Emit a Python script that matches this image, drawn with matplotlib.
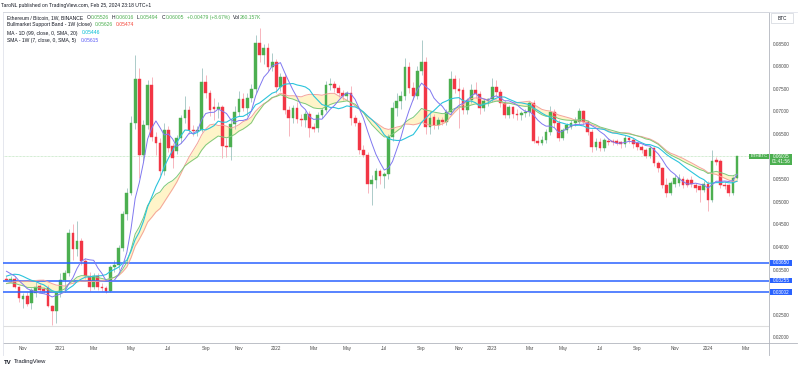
import numpy as np
import pandas as pd
import matplotlib
matplotlib.use('Agg')
import matplotlib.pyplot as plt
import matplotlib.dates as mdates
from matplotlib.patches import Rectangle
from matplotlib.lines import Line2D

# ETH/BTC weekly candles, first bar = week of 2020-10-05
first_week = '2020-10-05'

# closes before the visible range, only used to warm up the moving averages
warmup_close = [0.0255, 0.0240, 0.0232, 0.0240, 0.0262, 0.0275, 0.0280, 0.0278,
                0.0280, 0.0282, 0.0285, 0.0290, 0.0292, 0.0300, 0.0345, 0.0337,
                0.0363, 0.0345, 0.0368, 0.0347, 0.0358, 0.0350, 0.0340, 0.0333]

opens = [0.0330, 0.0327, 0.0329, 0.0311, 0.0285, 0.0291, 0.0276, 0.0298, 0.0314, 0.0307,
         0.0308, 0.0269, 0.0259, 0.0298, 0.0327, 0.0343, 0.0430, 0.0396, 0.0414, 0.0369,
         0.0336, 0.0312, 0.0336, 0.0312, 0.0309, 0.0303, 0.0355, 0.0359, 0.0397, 0.0473,
         0.0520, 0.0674, 0.0771, 0.0604, 0.0670, 0.0759, 0.0644, 0.0630, 0.0569, 0.0659,
         0.0624, 0.0612, 0.0641, 0.0686, 0.0703, 0.0659, 0.0656, 0.0659, 0.0764, 0.0740,
         0.0709, 0.0705, 0.0709, 0.0624, 0.0622, 0.0672, 0.0698, 0.0728, 0.0707, 0.0730,
         0.0750, 0.0851, 0.0825, 0.0840, 0.0799, 0.0809, 0.0754, 0.0777, 0.0702, 0.0685,
         0.0707, 0.0683, 0.0681, 0.0694, 0.0666, 0.0664, 0.0692, 0.0703, 0.0759, 0.0760,
         0.0751, 0.0740, 0.0734, 0.0740, 0.0685, 0.0675, 0.0615, 0.0604, 0.0540, 0.0549,
         0.0567, 0.0556, 0.0561, 0.0644, 0.0707, 0.0722, 0.0734, 0.0798, 0.0751, 0.0733,
         0.0790, 0.0810, 0.0666, 0.0687, 0.0670, 0.0681, 0.0677, 0.0699, 0.0771, 0.0749,
         0.0748, 0.0703, 0.0725, 0.0748, 0.0739, 0.0707, 0.0722, 0.0727, 0.0753, 0.0744,
         0.0718, 0.0692, 0.0709, 0.0694, 0.0691, 0.0696, 0.0699, 0.0718, 0.0635, 0.0631,
         0.0637, 0.0655, 0.0698, 0.0674, 0.0641, 0.0659, 0.0666, 0.0674, 0.0677, 0.0700,
         0.0677, 0.0655, 0.0622, 0.0633, 0.0618, 0.0635, 0.0634, 0.0634, 0.0632, 0.0627,
         0.0642, 0.0637, 0.0630, 0.0622, 0.0615, 0.0601, 0.0618, 0.0585, 0.0574, 0.0537,
         0.0519, 0.0539, 0.0541, 0.0550, 0.0548, 0.0549, 0.0537, 0.0534, 0.0526, 0.0539,
         0.0504, 0.0593, 0.0591, 0.0537, 0.0537, 0.0519, 0.05526]

highs = [0.0336, 0.0336, 0.0333, 0.0314, 0.0298, 0.0300, 0.0310, 0.0322, 0.0318, 0.0312,
         0.0315, 0.0272, 0.0302, 0.0342, 0.0350, 0.0440, 0.0451, 0.0458, 0.0420, 0.0376,
         0.0345, 0.0342, 0.0342, 0.0320, 0.0314, 0.0360, 0.0372, 0.0405, 0.0480, 0.0530,
         0.0690, 0.0825, 0.0797, 0.0680, 0.0770, 0.0777, 0.0655, 0.0640, 0.0675, 0.0668,
         0.0630, 0.0648, 0.0692, 0.0733, 0.0712, 0.0670, 0.0668, 0.0796, 0.0780, 0.0748,
         0.0730, 0.0720, 0.0715, 0.0640, 0.0680, 0.0712, 0.0745, 0.0740, 0.0740, 0.0760,
         0.0870, 0.0884, 0.0850, 0.0851, 0.0830, 0.0815, 0.0785, 0.0782, 0.0712, 0.0715,
         0.0720, 0.0695, 0.0700, 0.0700, 0.0675, 0.0698, 0.0708, 0.0768, 0.0773, 0.0768,
         0.0758, 0.0748, 0.0745, 0.0757, 0.0692, 0.0680, 0.0625, 0.0610, 0.0560, 0.0575,
         0.0572, 0.0566, 0.0650, 0.0720, 0.0740, 0.0745, 0.0818, 0.0810, 0.0765, 0.0800,
         0.0858, 0.0820, 0.0700, 0.0695, 0.0688, 0.0688, 0.0705, 0.0790, 0.0780, 0.0775,
         0.0755, 0.0730, 0.0760, 0.0765, 0.0745, 0.0728, 0.0730, 0.0775, 0.0770, 0.0750,
         0.0725, 0.0715, 0.0712, 0.0705, 0.0700, 0.0705, 0.0722, 0.0725, 0.0645, 0.0645,
         0.0662, 0.0711, 0.0705, 0.0680, 0.0663, 0.0675, 0.0680, 0.0688, 0.0707, 0.0703,
         0.0680, 0.0660, 0.0640, 0.0640, 0.0642, 0.0640, 0.0638, 0.0638, 0.0635, 0.0648,
         0.0645, 0.0640, 0.0633, 0.0626, 0.0620, 0.0624, 0.0622, 0.0590, 0.0576, 0.0552,
         0.0545, 0.0560, 0.0562, 0.0556, 0.0552, 0.0556, 0.0542, 0.0538, 0.0545, 0.0545,
         0.0615, 0.0600, 0.0595, 0.0545, 0.0540, 0.0556, 0.06016]

lows = [0.0324, 0.0322, 0.0308, 0.0279, 0.0265, 0.0270, 0.0263, 0.0290, 0.0300, 0.0298,
        0.0266, 0.0227, 0.0232, 0.0290, 0.0300, 0.0335, 0.0371, 0.0380, 0.0360, 0.0330,
        0.0303, 0.0306, 0.0305, 0.0302, 0.0298, 0.0300, 0.0345, 0.0350, 0.0390, 0.0460,
        0.0515, 0.0660, 0.0553, 0.0590, 0.0660, 0.0635, 0.0604, 0.0560, 0.0560, 0.0610,
        0.0575, 0.0605, 0.0630, 0.0675, 0.0650, 0.0645, 0.0645, 0.0655, 0.0730, 0.0690,
        0.0680, 0.0685, 0.0597, 0.0600, 0.0592, 0.0660, 0.0690, 0.0700, 0.0690, 0.0720,
        0.0740, 0.0810, 0.0805, 0.0790, 0.0790, 0.0740, 0.0745, 0.0695, 0.0646, 0.0675,
        0.0675, 0.0668, 0.0665, 0.0643, 0.0655, 0.0655, 0.0685, 0.0698, 0.0748, 0.0742,
        0.0732, 0.0725, 0.0725, 0.0670, 0.0668, 0.0605, 0.0598, 0.0520, 0.0493, 0.0530,
        0.0540, 0.0530, 0.0550, 0.0635, 0.0690, 0.0705, 0.0725, 0.0740, 0.0725, 0.0728,
        0.0780, 0.0650, 0.0650, 0.0660, 0.0662, 0.0670, 0.0670, 0.0692, 0.0740, 0.0663,
        0.0695, 0.0695, 0.0718, 0.0730, 0.0695, 0.0700, 0.0712, 0.0720, 0.0735, 0.0710,
        0.0685, 0.0685, 0.0685, 0.0680, 0.0680, 0.0688, 0.0690, 0.0630, 0.0625, 0.0625,
        0.0630, 0.0648, 0.0665, 0.0635, 0.0636, 0.0652, 0.0660, 0.0668, 0.0672, 0.0670,
        0.0648, 0.0611, 0.0615, 0.0612, 0.0612, 0.0625, 0.0626, 0.0625, 0.0620, 0.0622,
        0.0630, 0.0620, 0.0615, 0.0608, 0.0596, 0.0596, 0.0580, 0.0565, 0.0530, 0.0510,
        0.0515, 0.0532, 0.0535, 0.0530, 0.0532, 0.0532, 0.0522, 0.0500, 0.0522, 0.0480,
        0.0500, 0.0582, 0.0530, 0.0528, 0.0512, 0.0515, 0.05494]

closes = [0.0327, 0.0330, 0.0311, 0.0286, 0.0292, 0.0274, 0.0305, 0.0311, 0.0305, 0.0302,
          0.0269, 0.0259, 0.0298, 0.0327, 0.0343, 0.0430, 0.0396, 0.0414, 0.0369, 0.0336,
          0.0312, 0.0336, 0.0312, 0.0309, 0.0303, 0.0355, 0.0359, 0.0397, 0.0473, 0.0520,
          0.0674, 0.0771, 0.0604, 0.0670, 0.0759, 0.0644, 0.0630, 0.0569, 0.0659, 0.0618,
          0.0596, 0.0641, 0.0686, 0.0703, 0.0659, 0.0656, 0.0659, 0.0764, 0.0740, 0.0703,
          0.0705, 0.0709, 0.0624, 0.0622, 0.0672, 0.0698, 0.0728, 0.0707, 0.0730, 0.0750,
          0.0851, 0.0825, 0.0840, 0.0799, 0.0809, 0.0754, 0.0777, 0.0702, 0.0685, 0.0707,
          0.0683, 0.0681, 0.0694, 0.0664, 0.0662, 0.0692, 0.0703, 0.0759, 0.0760, 0.0751,
          0.0740, 0.0734, 0.0740, 0.0685, 0.0675, 0.0615, 0.0604, 0.0540, 0.0549, 0.0567,
          0.0556, 0.0561, 0.0644, 0.0707, 0.0722, 0.0734, 0.0798, 0.0751, 0.0733, 0.0790,
          0.0810, 0.0666, 0.0685, 0.0670, 0.0681, 0.0677, 0.0699, 0.0771, 0.0749, 0.0746,
          0.0703, 0.0725, 0.0748, 0.0739, 0.0707, 0.0722, 0.0727, 0.0753, 0.0744, 0.0718,
          0.0692, 0.0709, 0.0694, 0.0691, 0.0696, 0.0699, 0.0718, 0.0635, 0.0631, 0.0637,
          0.0655, 0.0698, 0.0674, 0.0641, 0.0659, 0.0669, 0.0674, 0.0681, 0.0700, 0.0677,
          0.0655, 0.0622, 0.0633, 0.0618, 0.0637, 0.0632, 0.0632, 0.0630, 0.0627, 0.0642,
          0.0637, 0.0627, 0.0622, 0.0615, 0.0601, 0.0618, 0.0585, 0.0574, 0.0537, 0.0519,
          0.0541, 0.0552, 0.0552, 0.0537, 0.0537, 0.0539, 0.0530, 0.0526, 0.0539, 0.0504,
          0.0591, 0.0589, 0.0537, 0.0535, 0.0519, 0.0552, 0.06005]

# horizontal levels drawn on the chart
level_lines = [0.03650, 0.03255, 0.03002]
grey_level = 0.02256
last_price = 0.06005

price_ticks = [0.020, 0.025, 0.030, 0.035, 0.040, 0.045, 0.050, 0.055,
               0.060, 0.065, 0.070, 0.075, 0.080, 0.085]
# ticks that sit under a price label box on the scale
hidden_ticks = [0.030, 0.060]
tick_dates = ['2020-11-02', '2021-01-04', '2021-03-01', '2021-05-03', '2021-07-05',
              '2021-09-06', '2021-11-01', '2022-01-03', '2022-03-07', '2022-05-02',
              '2022-07-04', '2022-09-05', '2022-11-07', '2023-01-02', '2023-03-06',
              '2023-05-01', '2023-07-03', '2023-09-04', '2023-11-06', '2024-01-01',
              '2024-03-04']
tick_labels = ['Nov', '2021', 'Mar', 'May', 'Jul', 'Sep', 'Nov', '2022', 'Mar', 'May',
               'Jul', 'Sep', 'Nov', '2023', 'Mar', 'May', 'Jul', 'Sep', 'Nov', '2024', 'Mar']

UP = '#4caf50'
DOWN = '#f23645'
UP_WICK = '#9fc3c0'
DOWN_WICK = '#f6a9b3'
BLUE = '#2962ff'
TXT = '#131722'
AX_TXT = '#4a4a4a'
FS = 3.4

W, H = 800, 370

plt.rcParams['font.family'] = ['Liberation Sans', 'DejaVu Sans']


def fx(px):
    return px / W


def fy(py):
    return 1 - py / H


def text_row(fig, x0, y, parts, fs):
    """Write (text, colour, gap_before) pieces one after another on one line."""
    renderer = fig.canvas.get_renderer()
    xp = x0
    for s, col, gap in parts:
        xp += gap
        t = fig.text(fx(xp), fy(y), s, color=col, fontsize=fs, va='center')
        bb = t.get_window_extent(renderer)
        xp = bb.x1


def main():
    o = np.array(opens)
    h = np.array(highs)
    l = np.array(lows)
    c = np.array(closes)
    n = len(c)
    dates = pd.date_range(first_week, periods=n, freq='7D')
    x = mdates.date2num(dates)

    full = pd.Series(warmup_close + closes)
    sma7 = full.rolling(7).mean().values[-n:]
    ma99d = full.rolling(14).mean().values[-n:]
    sma20 = full.rolling(20).mean().values[-n:]
    ema21 = full.ewm(span=21, adjust=False).mean().values[-n:]

    fig = plt.figure(figsize=(W / 100, H / 100), dpi=100)
    ax = fig.add_axes([fx(3), fy(342.7), fx(769) - fx(3), fy(12) - fy(342.7)])
    ax.set_facecolor('white')

    # bull market support band
    ax.fill_between(x, sma20, ema21, color='#fff4c9', lw=0, zorder=1)

    # reference levels
    for lv in level_lines:
        ax.axhline(lv, color=BLUE, lw=1.1, zorder=4)
    ax.axhline(grey_level, color='#dedede', lw=0.8, zorder=1)
    ax.axhline(last_price, color='#a8dba8', lw=0.5, ls=(0, (1, 1)), zorder=1)

    # candles
    up = c >= o
    ax.vlines(x[up], l[up], h[up], color=UP_WICK, lw=0.6, zorder=2)
    ax.vlines(x[~up], l[~up], h[~up], color=DOWN_WICK, lw=0.6, zorder=2)
    cols = np.where(up, UP, DOWN)
    ax.bar(x, np.abs(c - o), bottom=np.minimum(o, c), width=4.6, color=cols,
           edgecolor=cols, linewidth=0.3, zorder=3)

    # moving averages
    ax.plot(x, sma20, color='#f4a39b', lw=0.7, zorder=4)
    ax.plot(x, ema21, color='#7cc97c', lw=0.7, zorder=4)
    ax.plot(x, ma99d, color='#2bc4dc', lw=0.8, zorder=4)
    ax.plot(x, sma7, color='#8078f0', lw=0.7, zorder=4)

    ax.set_xlim(x[0] - 0.84 * 7, x[0] + 183.7 * 7)
    ax.set_ylim(0.0188, 0.0920)

    ax.yaxis.tick_right()
    ax.set_yticks(price_ticks)
    ax.set_yticklabels(['' if v in hidden_ticks else f'{v:.5f}' for v in price_ticks])
    ax.set_xticks(mdates.date2num(pd.to_datetime(tick_dates)))
    ax.set_xticklabels(tick_labels)
    ax.tick_params(axis='both', length=0, labelsize=FS, labelcolor=AX_TXT)
    ax.tick_params(axis='y', pad=2.7)
    ax.tick_params(axis='x', pad=2.4)
    for side in ['top', 'left']:
        ax.spines[side].set_color('#e0e3eb')
        ax.spines[side].set_linewidth(0.6)
    for side in ['right', 'bottom']:
        ax.spines[side].set_color('#b2b5be')
        ax.spines[side].set_linewidth(0.6)

    # frame pieces around the price scale
    fig.add_artist(Line2D([fx(769), fx(797)], [fy(12), fy(12)], color='#e0e3eb', lw=0.6))
    fig.add_artist(Line2D([fx(769), fx(797)], [fy(342.7), fy(342.7)], color='#b2b5be', lw=0.6))
    fig.add_artist(Line2D([fx(769), fx(769)], [fy(342.7), fy(355)], color='#b2b5be', lw=0.6))
    fig.add_artist(Line2D([fx(3), fx(3)], [fy(342.7), fy(355)], color='#e0e3eb', lw=0.6))

    def py_of(price):
        disp = ax.transData.transform((x[0], price))
        return H - disp[1]

    # price scale labels
    for lv in level_lines:
        yy = py_of(lv)
        fig.add_artist(Rectangle((fx(770), fy(yy + 2.8)), fx(22), 5.6 / H, color=BLUE, lw=0))
        fig.text(fx(781), fy(yy), f'{lv:.5f}', color='white', fontsize=FS,
                 ha='center', va='center')
    yy = py_of(last_price)
    fig.add_artist(Rectangle((fx(770), fy(yy + 8.2)), fx(22), 11 / H, color=UP, lw=0))
    fig.text(fx(781), fy(yy), f'{last_price:.5f}', color='white', fontsize=FS,
             ha='center', va='center')
    fig.text(fx(781), fy(yy + 5.3), '01:41:56', color='white', fontsize=FS,
             ha='center', va='center')
    fig.add_artist(Rectangle((fx(749), fy(yy + 2.7)), fx(20), 5.4 / H, color=UP, lw=0))
    fig.text(fx(759), fy(yy), 'ETHBTC', color='white', fontsize=FS - 0.2,
             ha='center', va='center')
    fig.add_artist(Rectangle((fx(771), fy(23.3)), fx(22), 10 / H, fc='white',
                             ec='#d1d4dc', lw=0.5))
    fig.text(fx(782), fy(18.3), 'BTC', color=TXT, fontsize=FS, ha='center', va='center')

    # header and legend
    fig.text(fx(1), fy(5), 'TaroNL published on TradingView.com, Feb 25, 2024 23:18 UTC+1',
             color=TXT, fontsize=FS + 0.2, va='center')
    fig.add_artist(Line2D([fx(3), fx(769)], [fy(12), fy(12)], color='#d1d4dc', lw=0.6))

    lf = FS + 0.2
    text_row(fig, 7.3, 17.3, [('Ethereum / Bitcoin, 1W, BINANCE', TXT, 0),
                              ('O', TXT, 3), ('0.05526', UP, 0.3),
                              ('H', TXT, 3), ('0.06016', UP, 0.3),
                              ('L', TXT, 3), ('0.05494', UP, 0.3),
                              ('C', TXT, 3), ('0.06005', UP, 0.3),
                              ('+0.00479 (+8.67%)', UP, 3),
                              ('Vol', TXT, 3), ('260.157K', UP, 0.3)], lf)
    text_row(fig, 7.3, 24.7, [('Bullmarket Support Band - 1W (close)', TXT, 0),
                              ('0.05626', UP, 3), ('0.05474', '#f44336', 3)], lf)
    text_row(fig, 7.3, 33.0, [('MA - 1D (99, close, 0, SMA, 20)', TXT, 0),
                              ('0.05446', '#00bcd4', 4)], lf)
    text_row(fig, 7.3, 40.3, [('SMA - 1W (7, close, 0, SMA, 5)', TXT, 0),
                              ('0.05615', '#5b5cf6', 4)], lf)

    # logo
    fig.text(fx(3.5), fy(362), 'TV', color=TXT, fontsize=4.4, fontweight='bold', va='center')
    fig.text(fx(13.5), fy(362), 'TradingView', color=TXT, fontsize=4.2, va='center')

    fig.savefig('out.png', dpi=100)
    plt.close(fig)


if __name__ == '__main__':
    main()
